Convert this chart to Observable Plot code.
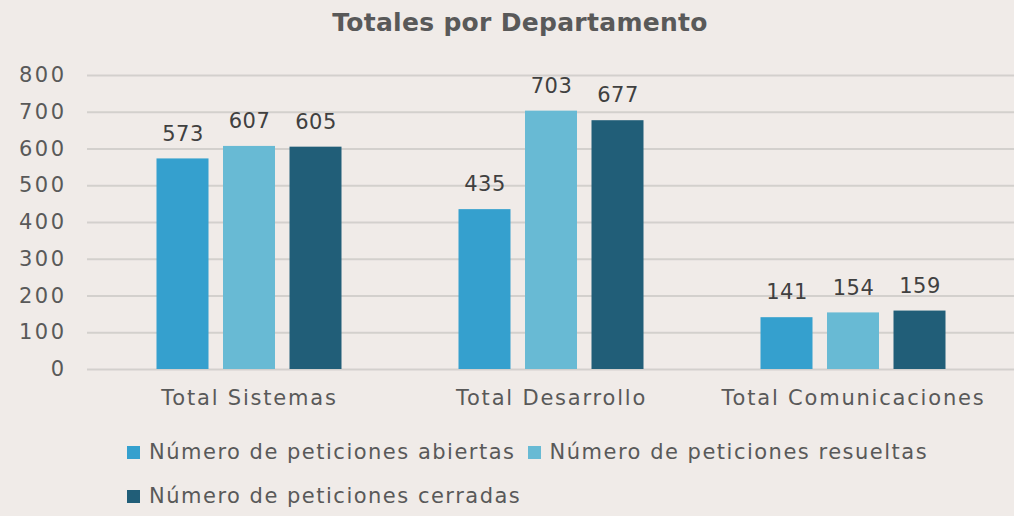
<!DOCTYPE html>
<html>
<head>
<meta charset="utf-8">
<script src="https://cdn.jsdelivr.net/npm/d3@7"></script>
<script src="https://cdn.jsdelivr.net/npm/@observablehq/plot@0.6"></script>
<style>
  html, body { margin: 0; padding: 0; background: #f0ebe8; }
  #wrap { width: 1014px; height: 516px; overflow: hidden; position: relative; background: #f0ebe8; font-family: "DejaVu Sans", sans-serif; }
  #title { position: absolute; left: 0; top: 0; width: 1014px; height: 46px; line-height: 46px; text-align: center; padding-left: 26px; box-sizing: border-box; font-weight: bold; font-size: 25px; color: #595959; letter-spacing: 0.3px; }
  #chart { position: absolute; left: 0; top: 55px; }
  #chart svg text { letter-spacing: 0.4px; }
  #chart svg g[aria-label="y-axis tick label"] text { letter-spacing: 2.5px; }
  #chart svg g[aria-label="x-axis tick label"] text { letter-spacing: 1.8px; }
  #legend { position: absolute; left: 127px; top: 430px; width: 880px; display: flex; flex-wrap: wrap; column-gap: 12px; }
  .item { display: flex; align-items: center; height: 44px; font-size: 21px; color: #595959; letter-spacing: 1.5px; }
  .sw { width: 13px; height: 13px; margin-right: 9px; }
</style>
</head>
<body>
<div id="wrap">
  <div id="title">Totales por Departamento</div>
  <div id="chart"></div>
  <div id="legend"></div>
</div>
<script>
const departamentos = ["Total Sistemas", "Total Desarrollo", "Total Comunicaciones"];
const series = ["Número de peticiones abiertas", "Número de peticiones resueltas", "Número de peticiones cerradas"];
const abiertas = [573, 435, 141];
const resueltas = [607, 703, 154];
const cerradas = [605, 677, 159];
const colores = ["#35a0ce", "#68bad4", "#215e78"];
const yTicks = [0, 100, 200, 300, 400, 500, 600, 700, 800];

const valores = [abiertas, resueltas, cerradas];
const offsets = [-66.5, 0, 66.5];

const marks = [
  Plot.gridY(yTicks, {stroke: "#d3d0cd", strokeOpacity: 1, strokeWidth: 2}),
  Plot.axisY({ticks: yTicks, tickSize: 0, tickPadding: 21, fontSize: 21, fill: "#595959", label: null}),
  Plot.axisX({tickSize: 0, tickPadding: 21, fontSize: 21, fill: "#595959", label: null})
];
valores.forEach((vals, i) => {
  const data = departamentos.map((d, j) => ({dept: d, serie: series[i], value: vals[j]}));
  marks.push(Plot.barY(data, {x: "dept", y: "value", fill: colores[i], dx: offsets[i], insetLeft: 125, insetRight: 125}));
  marks.push(Plot.text(data, {x: "dept", y: "value", text: d => String(d.value), dx: offsets[i], dy: -25, fontSize: 21, fill: "#404040"}));
});

const chart = Plot.plot({
  width: 1014,
  height: 370,
  marginLeft: 87,
  marginRight: 0,
  marginTop: 20,
  marginBottom: 56,
  style: {background: "transparent", fontFamily: "DejaVu Sans, sans-serif"},
  x: {domain: departamentos, padding: 0, paddingOuter: 0.03, axis: null},
  y: {domain: [0, 800], axis: null},
  marks
});
document.getElementById("chart").appendChild(chart);

const legend = document.getElementById("legend");
series.forEach((s, i) => {
  const it = document.createElement("div");
  it.className = "item";
  const sw = document.createElement("span");
  sw.className = "sw";
  sw.style.background = colores[i];
  const t = document.createElement("span");
  t.textContent = s;
  it.appendChild(sw);
  it.appendChild(t);
  legend.appendChild(it);
});
</script>
</body>
</html>
